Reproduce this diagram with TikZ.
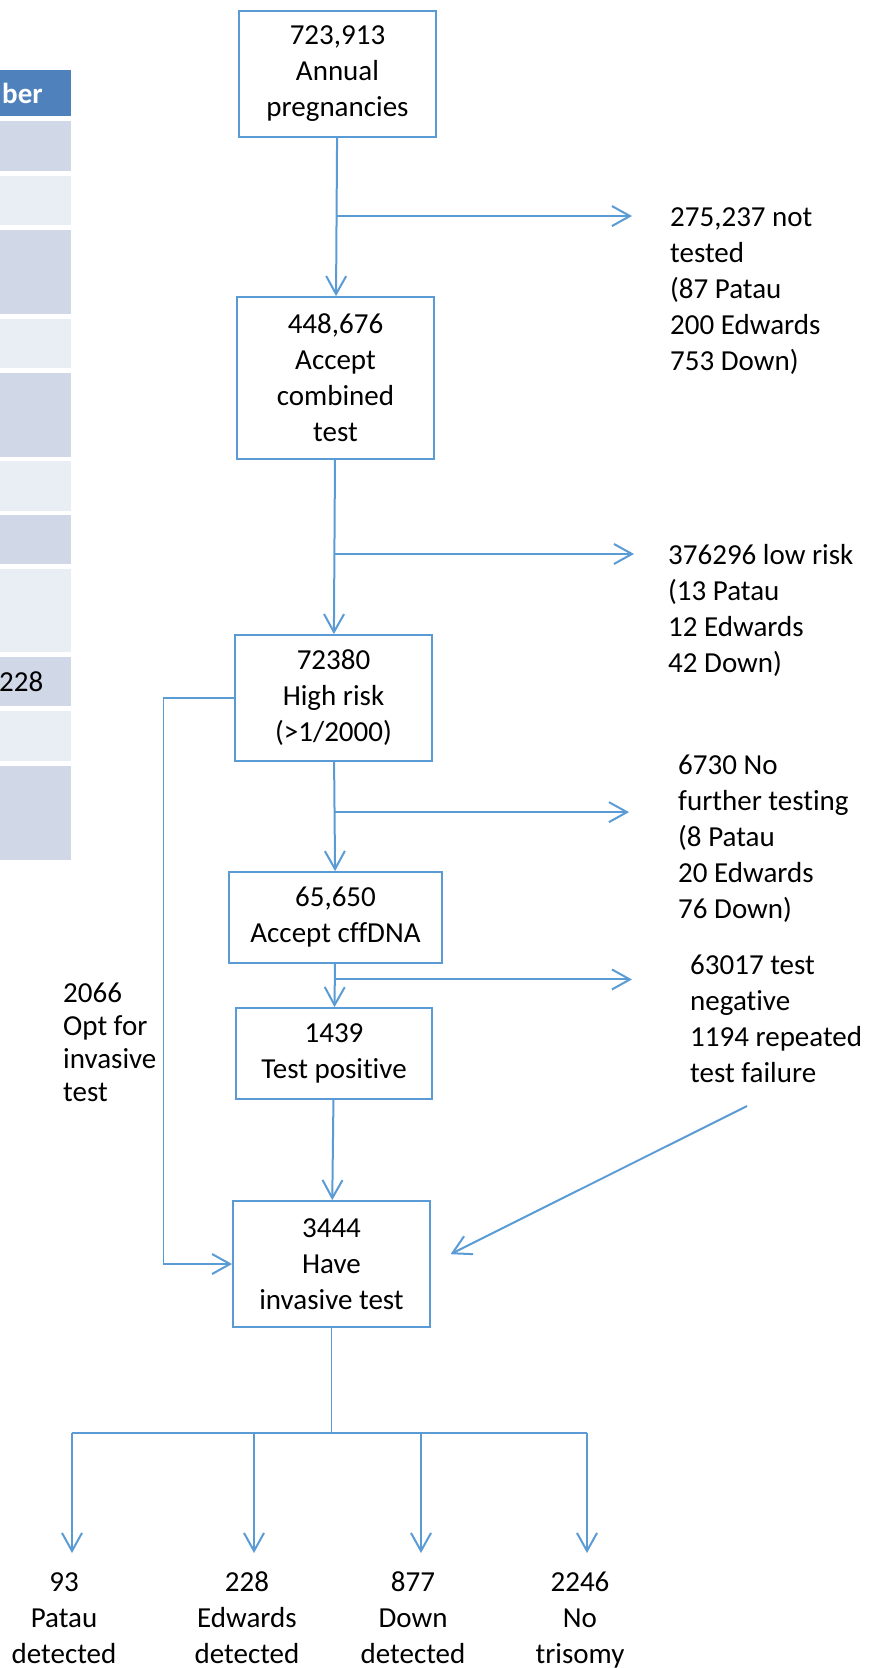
\documentclass[tikz,border=0pt]{standalone}
\usepackage{fontspec}
\setmainfont{Carlito}[Ligatures=NoCommon]
\usetikzlibrary{arrows.meta,calc}

\definecolor{flowblue}{RGB}{91,155,213}
\definecolor{headblue}{RGB}{79,129,189}
\definecolor{rowdark}{RGB}{208,216,232}
\definecolor{rowlight}{RGB}{233,237,244}

\newcommand{\txtfont}{\fontsize{29}{36}\selectfont}

\begin{document}
\begin{tikzpicture}[x=1pt, y=-1pt,
  every node/.style={font=\txtfont, inner sep=0pt},
  stage/.style={draw=flowblue, line width=1.8pt, align=center},
  note/.style={align=left, anchor=north west},
  leaf/.style={align=center, anchor=north},
  flow/.style={draw=flowblue, line width=2pt, -{Straight Barb[length=18pt,width=20pt,line width=2pt]}},
  thinflow/.style={flow, line width=1.1pt}]

\useasboundingbox (0,0) rectangle (883,1668);

% --- cut-off table on the left ---
\fill[headblue] (0,70) rectangle (71,116);
\node[anchor=west, text=white, font=\txtfont\bfseries] (hdr) at (2,93) {ber};
\foreach \ya/\yb/\col in {121/171/rowdark, 176/225/rowlight, 230/314/rowdark,
    319/368/rowlight, 373/457/rowdark, 461/511/rowlight, 515/564/rowdark,
    569/652/rowlight, 657/706/rowdark, 711/761/rowlight, 766/860/rowdark} {
    \fill[\col] (0,\ya) rectangle (71,\yb);
}
\node[anchor=west] (cell) at (-1,682) {228};

% --- main column of stages ---
\node[stage, minimum width=197pt, minimum height=126pt] (total) at (337.5,74) {723,913\\Annual\\pregnancies};
\node[stage, minimum width=197pt, minimum height=162pt] (combined) at (335.5,378) {448,676\\Accept\\combined\\test};
\node[stage, minimum width=197pt, minimum height=126pt] (highrisk) at (333.5,698) {72380\\High risk\\(>1/2000)};
\node[stage, minimum width=213pt, minimum height=91pt] (cffdna) at (335.5,917.5) {65,650\\Accept cffDNA};
\node[stage, minimum width=196pt, minimum height=91pt] (positive) at (334,1053.5) {1439\\Test positive};
\node[stage, minimum width=197pt, minimum height=126pt] (invasive) at (331.5,1264) {3444\\Have\\invasive test};

\draw[flow] (total) -- (combined);
\draw[flow] (combined) -- (highrisk);
\draw[flow] (highrisk) -- (cffdna);
\draw[flow] (cffdna) -- (positive);
\draw[flow] (positive) -- (invasive);

% --- drop-outs on the right ---
\node[note] (nottested) at (670,201) {\strut 275,237 not\\tested\\(87 Patau\\200 Edwards\\753 Down)};
\node[note] (lowrisk) at (668,539) {\strut 376296 low risk\\(13 Patau\\12 Edwards\\42 Down)};
\node[note] (nofurther) at (678,749) {\strut 6730 No\\further testing\\(8 Patau\\20 Edwards\\76 Down)};
\node[note] (negative) at (690,949) {\strut 63017 test\\negative\\1194 repeated\\test failure};

\coordinate (j1) at ($(total.south)!0.494!(combined.north)$);
\coordinate (j2) at ($(combined.south)!0.54!(highrisk.north)$);
\coordinate (j3) at ($(highrisk.south)!0.46!(cffdna.north)$);
\coordinate (j4) at ($(cffdna.south)!0.36!(positive.north)$);
\draw[flow, shorten >=38pt] (j1) -- (j1 -| nottested.west);
\draw[flow, shorten >=34pt] (j2) -- (j2 -| lowrisk.west);
\draw[flow, shorten >=49pt] (j3) -- (j3 -| nofurther.west);
\draw[flow, shorten >=58pt] (j4) -- (j4 -| negative.west);

% failures come back to invasive testing
\coordinate (fail) at (747,1106);
\draw[flow, shorten >=22pt] (fail) -- (invasive.east);

% --- straight to invasive test ---
\node[note, font=\fontsize{29}{33}\selectfont] (optinv) at (63,979) {\strut 2066\\Opt for\\invasive\\test};
\draw[thinflow] (highrisk.west) -- ++(-71,0) |- (invasive.west);

% --- outcomes ---
\coordinate (split) at (invasive.south |- 0,1433);
\coordinate (left end) at (72,1433);
\coordinate (right end) at (587,1433);
\draw[flowblue, line width=1.1pt] (invasive.south) -- (split);
\draw[flowblue, line width=2pt] (left end) -- (right end);
\foreach \id/\ax/\lx/\txt in {patau/72/64/{93\\Patau\\detected},
    edwards/254/247/{228\\Edwards\\detected},
    down/421/413/{877\\Down\\detected},
    none/587/580/{2246\\No\\trisomy}} {
    \node[leaf] (\id) at (\lx,1566) {\strut\txt};
    \coordinate (\id-top) at (\ax,1433);
    \draw[flow, shorten >=13pt] (\id-top) -- (\id-top |- \id.north);
}

\end{tikzpicture}
\end{document}
